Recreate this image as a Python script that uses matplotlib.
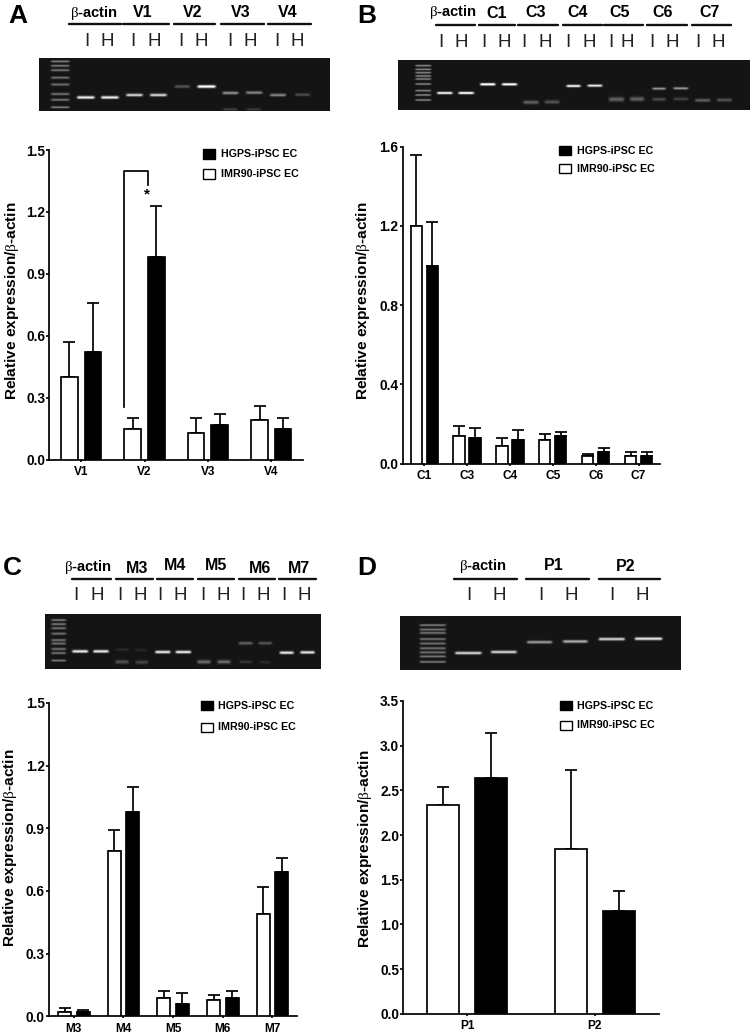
import numpy as np
import matplotlib
matplotlib.use('Agg')
import matplotlib.pyplot as plt
from matplotlib.patches import Rectangle

plt.rcParams['font.family'] = ['Liberation Sans', 'DejaVu Sans']
plt.rcParams['mathtext.fontset'] = 'custom'
plt.rcParams['mathtext.rm'] = 'Liberation Serif'

# Bar values
v_labels = ['V1', 'V2', 'V3', 'V4']
v_imr = [0.40, 0.15, 0.13, 0.19]
v_imr_err = [0.17, 0.05, 0.07, 0.07]
v_hgps = [0.52, 0.98, 0.17, 0.15]
v_hgps_err = [0.24, 0.25, 0.05, 0.05]

c_labels = ['C1', 'C3', 'C4', 'C5', 'C6', 'C7']
c_imr = [1.20, 0.14, 0.09, 0.12, 0.04, 0.04]
c_imr_err = [0.36, 0.05, 0.04, 0.03, 0.01, 0.02]
c_hgps = [1.00, 0.13, 0.12, 0.14, 0.06, 0.04]
c_hgps_err = [0.22, 0.05, 0.05, 0.02, 0.02, 0.02]

m_labels = ['M3', 'M4', 'M5', 'M6', 'M7']
m_imr = [0.02, 0.79, 0.09, 0.08, 0.49]
m_imr_err = [0.02, 0.10, 0.03, 0.02, 0.13]
m_hgps = [0.02, 0.98, 0.06, 0.09, 0.69]
m_hgps_err = [0.01, 0.12, 0.05, 0.03, 0.07]

p_labels = ['P1', 'P2']
p_imr = [2.34, 1.84]
p_imr_err = [0.20, 0.89]
p_hgps = [2.64, 1.15]
p_hgps_err = [0.50, 0.22]

W, H = 752, 1035
fig = plt.figure(figsize=(W / 100, H / 100), dpi=100, facecolor='white')
page = fig.add_axes([0, 0, 1, 1])
page.set_xlim(0, W)
page.set_ylim(H, 0)
page.axis('off')

BETA = r'$\mathrm{\beta}$'
YLABEL = 'Relative expression/' + BETA + '-actin'


def draw_gel(ox, oy, box, lad_x, lad_rows, bands):
    # all numbers are in 3x zoom pixels relative to (ox, oy)
    x0, x1, y0, y1 = box
    w, h = int((x1 - x0) / 3), int((y1 - y0) / 3)
    xx, yy = np.meshgrid(ox + x0 / 3 + np.arange(w) + .5, oy + y0 / 3 + np.arange(h) + .5)
    img = np.full((h, w), 0.08)
    all_bands = [(lad_x[0], lad_x[1], r, .42, 1.0) for r in lad_rows] + list(bands)
    for b in all_bands:
        bx0, bx1, by, level = b[:4]
        sig = b[4] if len(b) > 4 else 1.25
        bx0, bx1, by = ox + bx0 / 3, ox + bx1 / 3, oy + by / 3
        across = np.clip((xx - bx0) / 3, 0, 1) * np.clip((bx1 - xx) / 3, 0, 1)
        img += level * across * np.exp(-((yy - by) / sig) ** 2)
    page.imshow(np.clip(img, 0, 1), cmap='gray', vmin=0, vmax=1, aspect='auto', interpolation='bilinear',
                extent=(ox + x0 / 3, ox + x1 / 3, oy + y1 / 3, oy + y0 / 3))
    page.set_xlim(0, W)
    page.set_ylim(H, 0)


def draw_header(ox, oy, heads, lines, line_y, ih, ih_y):
    for txt, x, y in heads:
        is_actin = txt == 'actin'
        label = BETA + '-actin' if is_actin else txt
        page.text(ox + x / 3, oy + y / 3, label, ha='center', va='center', fontweight='bold',
                  fontsize=10.6 if is_actin else 11.5)
    for a, b in lines:
        page.plot([ox + a / 3, ox + b / 3], [oy + line_y / 3] * 2, color='#111111', lw=1.7, solid_capstyle='round')
    for i, (a, b) in enumerate(ih):
        page.text(ox + a / 3, oy + ih_y / 3, 'I', ha='center', va='center', fontsize=13.5, color='#222222')
        page.text(ox + b / 3, oy + ih_y / 3, 'H', ha='center', va='center', fontsize=13.5, color='#222222')


def draw_legend(ox, oy, x0, x1, y_black, y_white, tx, ty):
    page.add_patch(Rectangle((ox + x0 / 3, oy + y_black[0] / 3), (x1 - x0) / 3, (y_black[1] - y_black[0]) / 3,
                             facecolor='black', edgecolor='black', lw=1))
    page.add_patch(Rectangle((ox + x0 / 3, oy + y_white[0] / 3), (x1 - x0) / 3, (y_white[1] - y_white[0]) / 3,
                             facecolor='white', edgecolor='black', lw=1))
    page.text(ox + tx / 3, oy + ty[0] / 3, 'HGPS-iPSC EC', va='center', fontweight='bold', fontsize=7.7)
    page.text(ox + tx / 3, oy + ty[1] / 3, 'IMR90-iPSC EC', va='center', fontweight='bold', fontsize=7.7)


def draw_bars(box, labels, imr, imr_err, hgps, hgps_err, ymax, yticks, width=.262):
    left, right, top, bottom = box
    ax = fig.add_axes([left / W, 1 - bottom / H, (right - left) / W, (bottom - top) / H], facecolor='none')
    x = np.arange(len(labels))
    off = .186
    err_kw = dict(capsize=4.2, ecolor='black', elinewidth=1.25, capthick=1.25)
    ax.bar(x - off, imr, width, color='white', edgecolor='black', lw=1.25, zorder=3)
    ax.errorbar(x - off, imr, yerr=[np.zeros(len(imr)), imr_err], fmt='none', zorder=2, **err_kw)
    ax.bar(x + off, hgps, width, color='black', edgecolor='black', lw=1.25, zorder=3)
    ax.errorbar(x + off, hgps, yerr=[np.zeros(len(hgps)), hgps_err], fmt='none', zorder=2, **err_kw)
    ax.set_xlim(-.5, len(labels) - .5)
    ax.set_ylim(0, ymax)
    ax.set_xticks(x)
    ax.set_xticklabels(labels, fontweight='bold', fontsize=8.6)
    ax.set_yticks(yticks)
    ax.set_yticklabels(['%.1f' % t for t in yticks], fontweight='bold', fontsize=9.9)
    ax.tick_params(axis='y', length=2.5, width=1.2, pad=0.5)
    ax.tick_params(axis='x', length=1.5, width=1.2, pad=3)
    for s in ['top', 'right']:
        ax.spines[s].set_visible(False)
    for s in ['left', 'bottom']:
        ax.spines[s].set_linewidth(1.25)
    return ax


# Panel A
draw_gel(0, 0, (118, 990, 177, 334), (150, 213), [187, 200, 213, 235, 255, 283, 300, 322], [
    (228, 288, 293, 1.0), (300, 360, 293, 1.0), (375, 432, 286, .85), (446, 504, 286, .85),
    (520, 573, 261, .3), (588, 650, 261, 1.1), (663, 718, 280, .55), (733, 790, 279, .5),
    (805, 860, 286, .5), (880, 932, 285, .25), (665, 715, 328, .18), (735, 785, 328, .15)])
draw_header(0, 0, [('actin', 281, 38), ('V1', 428, 38), ('V2', 578, 38), ('V3', 723, 38), ('V4', 862, 38)],
            [(207, 362), (368, 507), (523, 645), (664, 792), (804, 932)], 73,
            [(262, 322), (400, 462), (543, 605), (690, 752), (832, 893)], 125)
draw_legend(0, 0, 609, 645, (448, 477), (508, 537), 662, (463, 522))
ax_a = draw_bars((49.5, 303, 150, 459.7), v_labels, v_imr, v_imr_err, v_hgps, v_hgps_err,
                 1.5, [0, .3, .6, .9, 1.2, 1.5])
ax_a.plot([1 - .186 - .131, 1 - .186 - .131, 1 + .186 - .131, 1 + .186 - .131], [.255, 1.40, 1.40, 1.33],
          color='black', lw=1.25, zorder=4)
ax_a.text(1 + .186 - .145, 1.285, '*', ha='center', va='center', fontweight='bold', fontsize=11)
page.text(12, 301, YLABEL, rotation=90, ha='center', va='center', fontweight='bold', fontsize=11.1)
page.text(8, 16, 'A', ha='left', va='center', fontweight='bold', fontsize=19)

# Panel B
draw_gel(376, 0, (65, 1118, 180, 330), (113, 168), [197, 208, 218, 228, 237, 252, 272, 285, 300], [
    (178, 232, 279, .9), (242, 296, 279, .95), (307, 360, 253, 1.05), (372, 425, 253, 1.0),
    (436, 490, 307, .3, 1.8), (500, 552, 306, .25, 1.8), (565, 615, 258, .9), (628, 680, 257, .85),
    (692, 745, 298, .3, 2.2), (755, 805, 297, .3, 2.2), (822, 870, 266, .5), (885, 937, 265, .5),
    (822, 870, 298, .22, 1.6), (885, 937, 297, .18, 1.6), (950, 1003, 301, .3, 1.6), (1015, 1068, 300, .25, 1.6)])
draw_header(376, 0, [('actin', 230, 35), ('C1', 362, 40), ('C3', 480, 38), ('C4', 605, 38), ('C5', 730, 38),
                     ('C6', 860, 38), ('C7', 1000, 38)],
            [(180, 298), (308, 418), (427, 545), (560, 678), (684, 802), (814, 932), (948, 1066)], 74,
            [(194, 257), (323, 386), (444, 507), (577, 640), (706, 753), (828, 890), (965, 1028)], 127)
draw_legend(376, 0, 549, 585, (438, 466), (493, 520), 602, (452, 507))
draw_bars((402.7, 660, 146.7, 463.7), c_labels, c_imr, c_imr_err, c_hgps, c_hgps_err,
          1.6, [0, .4, .8, 1.2, 1.6])
page.text(363, 301, YLABEL, rotation=90, ha='center', va='center', fontweight='bold', fontsize=11.1)
page.text(357, 16, 'B', ha='left', va='center', fontweight='bold', fontsize=19)

# Panel C
draw_gel(0, 545, (135, 963, 210, 373), (150, 202), [228, 240, 252, 268, 287, 297, 313, 325, 347], [
    (213, 268, 320, 1.0), (276, 330, 320, 1.0), (345, 390, 315, .1), (400, 445, 316, .08),
    (342, 390, 351, .25, 1.8), (403, 448, 352, .2, 1.8), (462, 515, 322, 1.0), (523, 577, 322, 1.0),
    (588, 636, 351, .35, 1.8), (648, 696, 351, .35, 1.8), (712, 762, 296, .35), (772, 820, 296, .3),
    (715, 760, 351, .15), (775, 815, 352, .1), (835, 885, 324, .95), (897, 948, 323, .95)])
draw_header(0, 545, [('actin', 264, 65), ('M3', 410, 70), ('M4', 525, 62), ('M5', 648, 62), ('M6', 780, 70),
                     ('M7', 898, 70)],
            [(215, 332), (349, 458), (471, 580), (594, 703), (716, 825), (838, 947)], 103,
            [(229, 291), (359, 422), (480, 541), (608, 670), (729, 791), (851, 912)], 152)
draw_legend(0, 545, 603, 639, (469, 496), (533, 560), 655, (482, 545))
draw_bars((49, 297.3, 703, 1016.3), m_labels, m_imr, m_imr_err, m_hgps, m_hgps_err,
          1.5, [0, .3, .6, .9, 1.2, 1.5])
page.text(10, 848, YLABEL, rotation=90, ha='center', va='center', fontweight='bold', fontsize=11.1)
page.text(3, 568, 'C', ha='left', va='center', fontweight='bold', fontsize=19)

# Panel D
draw_gel(376, 545, (72, 913, 215, 375), (127, 213), [242, 255, 265, 283, 296, 310, 322, 334, 350], [
    (233, 320, 324, .85), (340, 425, 321, .85), (448, 531, 292, .6), (555, 637, 290, .7),
    (662, 748, 283, .85), (770, 860, 282, .95)])
draw_header(376, 545, [('actin', 320, 63), ('P1', 533, 63), ('P2', 750, 65)],
            [(235, 422), (450, 638), (670, 853)], 103,
            [(278, 370), (494, 585), (709, 800)], 153)
draw_legend(376, 545, 551, 587, (469, 496), (528, 554), 602, (482, 540))
draw_bars((403.3, 658.7, 701, 1013.7), p_labels, p_imr, p_imr_err, p_hgps, p_hgps_err,
          3.5, [0, .5, 1, 1.5, 2, 2.5, 3, 3.5], width=.252)
page.text(365, 849, YLABEL, rotation=90, ha='center', va='center', fontweight='bold', fontsize=11.1)
page.text(357, 568, 'D', ha='left', va='center', fontweight='bold', fontsize=19)

fig.savefig('out.png', dpi=100)
plt.close(fig)
